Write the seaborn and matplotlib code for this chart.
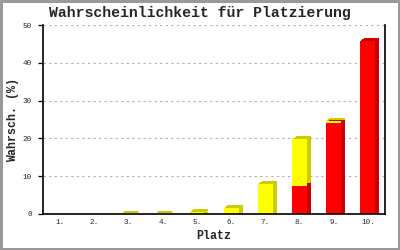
import matplotlib
matplotlib.use("Agg")
import matplotlib.pyplot as plt
import matplotlib.transforms as mtransforms
import seaborn as sns

categories = ["1.", "2.", "3.", "4.", "5.", "6.", "7.", "8.", "9.", "10."]
red_values = [0, 0, 0, 0, 0, 0, 0, 7.4, 24.2, 45.8]
yellow_values = [0, 0, 0.1, 0.1, 0.4, 1.7, 8.0, 12.4, 0.5, 0]
total_values = [r + y for r, y in zip(red_values, yellow_values)]
y_ticks = [0, 10, 20, 30, 40, 50]

sns.set_style("white")
plt.rcParams["font.family"] = ["Liberation Mono", "DejaVu Sans Mono"]

fig = plt.figure(figsize=(4, 2.5), dpi=100)
ax = fig.add_axes([43 / 400, 1 - 214 / 250, (385 - 43) / 400, (214 - 25) / 250])

W = 0.44
RED, RED_D = "#FF0000", "#CC0000"
YEL, YEL_D = "#FFFF00", "#CCCC00"

# 3D depth: several shifted copies build the extruded side/top faces
shifts = [(4, 0), (1, 0.75), (2, 1.5), (3, 2.25), (4, 3)]
for vals, col in [(total_values, YEL_D), (red_values, RED_D)]:
    for dx, dy in shifts:
        n0 = len(ax.containers)
        sns.barplot(x=categories, y=vals, color=col, saturation=1, width=W,
                    linewidth=0, ax=ax, order=categories)
        off = mtransforms.ScaledTranslation(dx / 100, dy / 100, fig.dpi_scale_trans)
        for cont in ax.containers[n0:]:
            for p in cont:
                p.set_transform(ax.transData + off)
                p.set_zorder(2)

# front faces
n0 = len(ax.containers)
sns.barplot(x=categories, y=total_values, color=YEL, saturation=1, width=W,
            linewidth=0, ax=ax, order=categories)
sns.barplot(x=categories, y=red_values, color=RED, saturation=1, width=W,
            linewidth=0, ax=ax, order=categories)
for cont in ax.containers[n0:]:
    for p in cont:
        p.set_zorder(3)

ax.set_xlim(-0.5, 9.5)
ax.set_ylim(0, 50)
ax.set_yticks(y_ticks)
ax.set_yticklabels([str(t) for t in y_ticks], fontsize=5.5)
ax.set_xticks(range(len(categories)))
ax.set_xticklabels(categories, fontsize=5.5)

ax.tick_params(axis="y", left=True, length=3.6, width=0.9, pad=4.3, color="black")
ax.tick_params(axis="x", bottom=False, length=0, pad=3.5)

for t in y_ticks[1:]:
    ax.axhline(t, color="#B0B0B0", lw=0.8, linestyle=(0, (2, 3)), zorder=0.5)

for s in ["left", "bottom", "right"]:
    ax.spines[s].set_visible(True)
    ax.spines[s].set_color("black")
    ax.spines[s].set_linewidth(1.2)
    ax.spines[s].set_zorder(4)
ax.spines["top"].set_visible(False)
ax.set_facecolor("white")

ax.set_xlabel("Platz", fontsize=8.4, fontweight="bold", labelpad=3)
ax.set_ylabel("Wahrsch. (%)", fontsize=8.4, fontweight="bold", labelpad=3)

fig.text(0.5, 1 - 13 / 250, "Wahrscheinlichkeit für Platzierung",
         ha="center", va="center", fontsize=10.7, fontweight="bold")

fig.patch.set_facecolor("white")
fig.patch.set_edgecolor("#999999")
fig.patch.set_linewidth(2.5)

fig.savefig("out.png", dpi=100, facecolor="white", edgecolor="#999999")
